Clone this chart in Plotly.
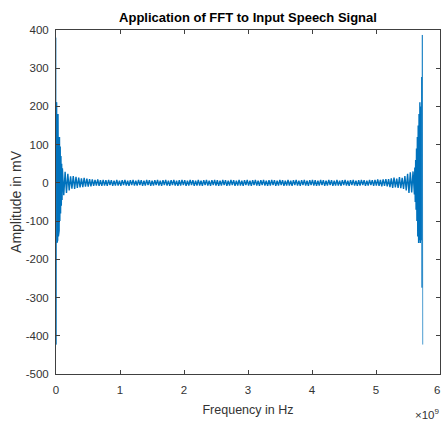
import numpy as np
import plotly.graph_objects as go

# ---- FFT amplitude samples (mV), grouped by region ----
# thin full-height spikes at the two ends of the spectrum
spike_left_f = [0.0, 0.003e9, 0.006e9, 0.009e9]
spike_left_amp = [380, -423, 277, -274]
spike_right_f = [5.712e9, 5.718e9, 5.724e9, 5.73e9]
spike_right_amp = [277, -274, 387, -423]

# dense blob next to the left end (0.009 - 0.1 GHz)
blob_left_amp = [211, -157, 200, -150, 180, -140, 150, -125, 120, -100, 95, -80, 70, -60, 50, -45]
# main body (0.1 - 5.6 GHz)
body_amp = [
    38, -32, 29, -26, 24, -20, 17, -15, 18, -16, 16, -13, 14, -12, 12, -11, 13, -10, 11, -10,
    10, -9, 9, -8, 8, -7, 9, -8, 7, -8, 8, -7, 7, -8, 8, -6, 7, -8, 6, -7,
    8, -7, 6, -8, 7, -6, 8, -7, 6, -8, 7, -6, 8, -7, 6, -7, 8, -6, 7, -8,
    6, -7, 8, -6, 7, -8, 6, -7, 7, -6, 8, -7, 6, -8, 7, -6, 8, -7, 6, -8,
    7, -6, 8, -7, 6, -8, 7, -7, 8, -6, 7, -8, 6, -7, 8, -6, 7, -8, 6, -7,
    8, -7, 6, -8, 7, -6, 8, -7, 6, -8, 7, -6, 8, -7, 7, -8, 6, -7, 8, -6,
    7, -8, 6, -7, 8, -6, 7, -8, 6, -7, 8, -7, 6, -8, 7, -6, 8, -7, 6, -8,
    7, -6, 8, -7, 6, -8, 7, -6, 8, -7, 6, -8, 7, -7, 8, -6, 7, -8, 6, -7,
    8, -6, 7, -8, 6, -7, 8, -7, 6, -8, 7, -6, 8, -7, 6, -8, 7, -6, 8, -7,
    6, -8, 7, -6, 8, -7, 7, -8, 6, -7, 8, -6, 7, -8, 6, -7, 8, -6, 7, -8,
    6, -7, 8, -7, 6, -8, 7, -6, 8, -7, 6, -8, 7, -6, 8, -7, 6, -8, 7, -7,
    8, -6, 7, -8, 6, -7, 8, -6, 7, -8, 8, -7, 9, -8, 8, -9, 9, -8, 10, -9,
    10, -11, 12, -13, 14, -12, 11, -13, 15, -14, 13, -16, 18, -20, 24, -26, 28, -25, 30, -30,
]
# dense blob next to the right end (5.6 - 5.712 GHz)
blob_right_amp = [40, -50, 60, -70, 90, -100, 120, -140, 150, -157, 180, -150, 211, -157, 200, -150]

f_body_start = 0.1e9
f_body_end = 5.6e9

x_ticks = [0, 1e9, 2e9, 3e9, 4e9, 5e9, 6e9]
x_tick_text = ["0", "1", "2", "3", "4", "5", "6"]
y_ticks = [-500, -400, -300, -200, -100, 0, 100, 200, 300, 400]
y_tick_text = ["-500", "-400", "-300", "-200", "-100", "0", "100", "200", "300", "400"]

# ---- build the traces ----
f_blob_left = np.linspace(spike_left_f[-1], f_body_start, len(blob_left_amp) + 1)[:-1]
f_body = np.linspace(f_body_start, f_body_end, len(body_amp))
f_blob_right = np.linspace(f_body_end, spike_right_f[0], len(blob_right_amp) + 2)[1:-1]

dense_f = np.concatenate([f_blob_left, f_body, f_blob_right])
dense_amp = np.array(blob_left_amp + body_amp + blob_right_amp, dtype=float)

spike_f = spike_left_f + [float(f_blob_left[0])] + [None] + [float(f_blob_right[-1])] + spike_right_f
spike_amp = spike_left_amp + [blob_left_amp[0]] + [None] + [blob_right_amp[-1]] + spike_right_amp

blue = "#0072BD"
fig = go.Figure()
fig.add_trace(go.Scatter(x=spike_f, y=spike_amp, mode="lines", connectgaps=False,
                         line=dict(color=blue, width=0.7), showlegend=False))
fig.add_trace(go.Scatter(x=dense_f, y=dense_amp, mode="lines",
                         line=dict(color=blue, width=1.4), showlegend=False))

font_family = "Liberation Sans, Arial, sans-serif"
axis_color = "#404040"
tick_font = dict(size=11.5, color="#333333", family=font_family)
axis_common = dict(showline=True, linecolor=axis_color, linewidth=1, mirror="ticks",
                   ticks="inside", ticklen=4, tickcolor=axis_color, showgrid=False,
                   zeroline=False, automargin=False, tickfont=tick_font)

# plotly hides a tick label that runs past the page edge, so the last x label
# (at the right edge of the reference) is drawn as an annotation at its tick
x_text_axis = x_tick_text[:-1] + [""]

fig.update_layout(
    width=442, height=421,
    margin=dict(l=56, r=2, t=30, b=47),
    plot_bgcolor="white", paper_bgcolor="white",
    font=dict(family=font_family, color="#262626"),
    title=dict(text="<b>Application of FFT to Input Speech Signal</b>",
               font=dict(size=13, color="#000000"), xref="paper", x=0.5, xanchor="center",
               y=1 - 17 / 421, yanchor="middle"),
    xaxis=dict(range=[0, 6e9], tickvals=x_ticks, ticktext=x_text_axis,
               ticklabelstandoff=5,
               title=dict(text="Frequency in Hz", font=dict(size=12.5, color="#333333"), standoff=10),
               **axis_common),
    yaxis=dict(range=[-500, 400], tickvals=y_ticks, ticktext=y_tick_text, ticklabelstandoff=4,
               title=dict(text="Amplitude in mV", font=dict(size=14, color="#333333"), standoff=0),
               **axis_common),
)
fig.add_annotation(text=x_tick_text[-1], xref="paper", yref="paper", x=1.0, xshift=2, y=-0.047,
                   xanchor="right", yanchor="middle", showarrow=False, font=tick_font)
fig.add_annotation(text="×10<sup>9</sup>", xref="paper", yref="paper", x=1.0, xshift=2,
                   y=-0.116, xanchor="right", yanchor="middle", showarrow=False,
                   font=dict(size=11.5, color="#333333"))

fig.write_html("out.html", config={"displayModeBar": False},
               post_script="document.body.style.margin='0px';document.body.style.overflow='hidden';")
